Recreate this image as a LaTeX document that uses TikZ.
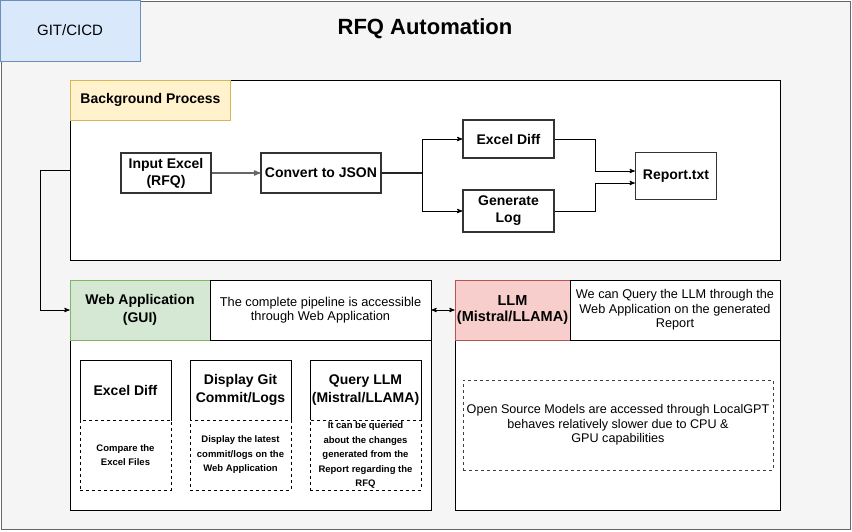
\documentclass[tikz,border=0pt]{standalone}
\usepackage{fontspec}
\setmainfont{Liberation Sans}
\usetikzlibrary{arrows}
\definecolor{panelgray}{RGB}{245, 245, 245}
\definecolor{edgegray}{RGB}{102, 102, 102}
\definecolor{gitblue}{RGB}{218, 232, 252}
\definecolor{gitedge}{RGB}{108, 142, 191}
\definecolor{procyellow}{RGB}{255, 242, 204}
\definecolor{procedge}{RGB}{214, 182, 86}
\definecolor{webgreen}{RGB}{213, 232, 212}
\definecolor{webedge}{RGB}{130, 179, 102}
\definecolor{llmred}{RGB}{248, 206, 204}
\definecolor{llmedge}{RGB}{184, 84, 80}
\begin{document}
\begin{tikzpicture}[x=1pt, y=-1pt,
        every node/.style={align=center, inner sep=0pt, font=\fontsize{12.8}{14.5}\selectfont},
        frame/.style={draw=black, fill=white, line width=0.8pt},
        procbox/.style={draw=black!80, fill=white, line width=1.3pt, font=\fontsize{14}{17}\selectfont\bfseries},
        titlebox/.style={draw=black, fill=white, line width=0.8pt, font=\fontsize{14}{18}\selectfont\bfseries},
        notebox/.style={draw=black, fill=white, dashed, line width=0.8pt, font=\fontsize{9.5}{14.5}\selectfont\bfseries},
        wire/.style={draw=black, line width=0.9pt, >=stealth'}]
            \useasboundingbox (0,0) rectangle (852,531);
            \filldraw[color=edgegray, fill=panelgray, line width=0.9pt] (1,1) rectangle (850,529);
            \node[draw=gitedge, fill=gitblue, line width=0.8pt, minimum width=140, minimum height=61,
                  font=\fontsize{15}{17}\selectfont] (gitcicd) at (70,30.5) {GIT/CICD};
            \node[font=\fontsize{22}{26}\selectfont\bfseries] (title) at (425,29) {RFQ Automation};

            \node[frame, minimum width=710, minimum height=180] (bgproc) at (425.5,170) {};
            \node[draw=procedge, fill=procyellow, line width=0.8pt, minimum width=160, minimum height=40,
                  font=\fontsize{14}{16}\selectfont\bfseries] (bglabel) at (150.5,100) {Background Process};
            \node[procbox, minimum width=90,  minimum height=40] (inputexcel) at (166,173)   {Input Excel\\(RFQ)};
            \node[procbox, minimum width=120, minimum height=40] (tojson)     at (321,173)   {Convert to JSON};
            \node[procbox, minimum width=91,  minimum height=38] (diffproc)   at (508.5,139) {Excel Diff};
            \node[procbox, minimum width=91,  minimum height=42] (genlog)     at (508.5,211) {Generate\\Log};
            \node[procbox, minimum width=81,  minimum height=47] (report)     at (676,176)   {Report.txt};
            \coordinate (split) at (422,173);
            \draw[wire, ->, draw=edgegray, line width=1.3pt] (inputexcel) -- (tojson);
            \draw[wire, line width=1.6pt, draw=black!85] (tojson) -- (split);
            \draw[wire, ->] (split) |- (diffproc);
            \draw[wire, ->] (split) |- (genlog);
            \draw[wire, ->] (diffproc.east) -- ++(41,0) |- ([yshift=5pt]report.west);
            \draw[wire, ->] (genlog.east) -- ++(41,0) |- ([yshift=-7pt]report.west);

            \node[frame, minimum width=361, minimum height=230] (webapp) at (250.5,395) {};
            \node[draw=webedge, fill=webgreen, line width=0.8pt, minimum width=140, minimum height=60,
                  font=\fontsize{14}{18}\selectfont\bfseries] (webhead) at (140,310) {Web Application\\(GUI)};
            \node[frame, minimum width=221, minimum height=60] (webnote) at (320.5,310)
                 {The complete pipeline is accessible\\through Web Application};
            \node[titlebox, minimum width=91,  minimum height=60] (webdiff)  at (125.5,390) {Excel Diff};
            \node[titlebox, minimum width=101, minimum height=60] (webgit)   at (240.5,390) {Display Git\\Commit/Logs};
            \node[titlebox, minimum width=111, minimum height=60] (webquery) at (365.5,390) {Query LLM\\(Mistral/LLAMA)};
            \node[notebox, minimum width=91,  minimum height=70] (diffnote)  at (125.5,455) {Compare the\\Excel Files};
            \node[notebox, minimum width=101, minimum height=70] (gitnote)   at (240.5,455)
                 {Display the latest\\commit/logs on the\\Web Application};
            \node[notebox, minimum width=111, minimum height=70] (querynote) at (365.5,455)
                 {It can be queried\\about the changes\\generated from the\\Report regarding the\\RFQ};
            \draw[wire, ->] (bgproc.west) -- ++(-30,0) |- (webhead.west);

            \node[frame, minimum width=325, minimum height=230] (llmbox) at (617.5,395) {};
            \node[draw=llmedge, fill=llmred, line width=0.8pt, minimum width=115, minimum height=60,
                  font=\fontsize{14.5}{16}\selectfont\bfseries] (llmhead) at (512.5,310) {LLM\\(Mistral/LLAMA)};
            \node[frame, minimum width=210, minimum height=60, font=\fontsize{12.7}{14.5}\selectfont] (llmnote) at (675,310)
                 {We can Query the LLM through the\\Web Application on the generated\\Report};
            \node[draw=black!75, dashed, line width=0.8pt, minimum width=310, minimum height=90,
                  font=\fontsize{12.6}{14.5}\selectfont] (localgpt) at (618,425)
                 {Open Source Models are accessed through LocalGPT\\behaves relatively slower due to CPU \&\\GPU capabilities};
            \draw[wire, <->] (webnote.east) -- (llmhead.west);
        \end{tikzpicture}
\end{document}
